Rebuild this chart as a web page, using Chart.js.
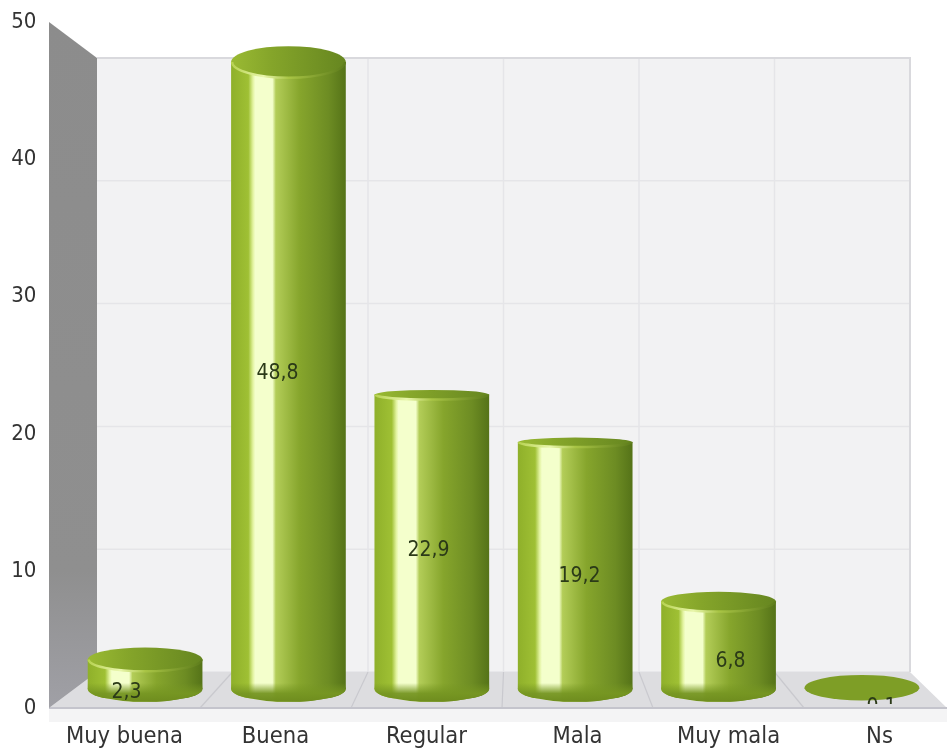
<!DOCTYPE html>
<html>
<head>
<meta charset="utf-8">
<style>
html,body{margin:0;padding:0;background:#fff}
canvas{display:block;filter:blur(.5px)}
</style>
<script src="https://cdn.jsdelivr.net/npm/chart.js@4"></script>
</head>
<body>
<canvas id="c" width="947" height="753"></canvas>
<script>
const categories = ['Muy buena','Buena','Regular','Mala','Muy mala','Ns'];
const values = [2.3,48.8,22.9,19.2,6.8,0.1];
const valueLabels = ['2,3','48,8','22,9','19,2','6,8','0,1'];
const yTicks = [0,10,20,30,40,50];

const font = '"DejaVu Sans Condensed","DejaVu Sans"';
const W = {x0:97,x1:910,y0:58,y1:672,fx0:49,fx1:955,fy:708,topY:22};

// ellipses get flatter near the eye line in the middle of the picture
function ry(y){ return 4 + Math.abs(y-420)*0.033; }
function sideFill(c,x,w){
  const g = c.createLinearGradient(x-w/2,0,x+w/2,0);
  [[0,'#8fb02a'],[.15,'#9fc034'],[.19,'#e2f3a0'],[.21,'#f4ffcc'],[.36,'#f4ffcc'],[.39,'#b3cd58'],[.6,'#86a52c'],[.85,'#6d8c23'],[1,'#557318']].forEach(s=>g.addColorStop(s[0],s[1]));
  return g;
}
function capFill(c,x,w){
  const g = c.createLinearGradient(x-w/2,0,x+w/2,0);
  g.addColorStop(0,'#9aba33'); g.addColorStop(.35,'#85a52a'); g.addColorStop(1,'#668620');
  return g;
}

const wallPlugin = {
  id:'wall',
  beforeDatasetsDraw(chart){
    const c = chart.ctx, wall = chart.scales.yWall;
    c.save();
    c.fillStyle = '#f2f2f3'; c.fillRect(W.x0,W.y0,W.x1-W.x0,W.y1-W.y0);
    c.fillStyle = '#f4f4f5'; c.fillRect(W.fx0,W.fy,947-W.fx0,14);
    c.strokeStyle = '#e5e5e8'; c.lineWidth = 1.5;
    yTicks.forEach(t=>{ const y = wall.getPixelForValue(t); c.beginPath(); c.moveTo(W.x0,y); c.lineTo(W.x1,y); c.stroke(); });
    const n = categories.length, bw = (W.x1-W.x0)/n, fw = (W.fx1-W.fx0)/n;
    for(let i=1;i<n;i++){ const x = W.x0+bw*i; c.beginPath(); c.moveTo(x,W.y0); c.lineTo(x,W.y1); c.stroke(); }
    c.strokeStyle = '#d9d9dd'; c.lineWidth = 2;
    c.beginPath(); c.moveTo(W.x0,W.y0); c.lineTo(W.x1,W.y0); c.lineTo(W.x1,W.y1); c.stroke();
    // floor
    c.fillStyle = '#dddde0';
    c.beginPath(); c.moveTo(W.fx0,W.fy); c.lineTo(W.x0,W.y1); c.lineTo(W.x1,W.y1); c.lineTo(947,W.fy); c.closePath(); c.fill();
    c.strokeStyle = '#c9c9ce'; c.lineWidth = 1.2;
    for(let i=1;i<n;i++){ c.beginPath(); c.moveTo(W.x0+bw*i,W.y1); c.lineTo(W.fx0+fw*i,W.fy); c.stroke(); }
    c.strokeStyle = '#c4c4cc'; c.lineWidth = 2;
    c.beginPath(); c.moveTo(W.fx0,W.fy); c.lineTo(947,W.fy); c.stroke();
    // left wall
    const g = c.createLinearGradient(0,W.topY,0,W.fy);
    g.addColorStop(0,'#8c8c8c'); g.addColorStop(.8,'#8f8f8f'); g.addColorStop(1,'#a0a0a6');
    c.fillStyle = g;
    c.beginPath(); c.moveTo(W.fx0,W.topY); c.lineTo(W.x0,W.y0); c.lineTo(W.x0,W.y1); c.lineTo(W.fx0,W.fy); c.closePath(); c.fill();
    // bottom of the cylinders
    chart.getDatasetMeta(0).data.forEach(b=>{
      if(b.base-b.y < 3) return;
      c.fillStyle = sideFill(c,b.x,b.width);
      c.beginPath(); c.ellipse(b.x,b.base,b.width/2,ry(b.base),0,0,Math.PI*2); c.fill();
    });
    c.restore();
  },
  afterDatasetsDraw(chart){
    const c = chart.ctx, yAxis = chart.scales.y, xl = chart.scales.xLabels;
    chart.getDatasetMeta(0).data.forEach((b,i)=>{
      const rx = b.width/2, r = ry(b.y), flat = b.base-b.y < 3;
      c.save();
      if(!flat){
        // darker lower edge
        const rb = ry(b.base), g = c.createLinearGradient(0,b.base-6,0,b.base+rb);
        g.addColorStop(0,'rgba(118,150,34,0)'); g.addColorStop(.55,'rgba(118,150,34,.95)'); g.addColorStop(1,'rgba(110,140,30,1)');
        c.fillStyle = g;
        c.beginPath(); c.moveTo(b.x-rx,b.base-6); c.lineTo(b.x+rx,b.base-6); c.lineTo(b.x+rx,b.base);
        c.ellipse(b.x,b.base,rx,rb,0,0,Math.PI); c.closePath(); c.fill();
      }
      c.fillStyle = flat ? '#7e9e26' : capFill(c,b.x,b.width);
      c.beginPath(); c.ellipse(b.x,b.y,rx,r,0,0,Math.PI*2); c.fill();
      if(!flat){
        // light front rim of the lid
        const g = c.createLinearGradient(b.x-rx,0,b.x+rx,0);
        g.addColorStop(0,'#b6d24f'); g.addColorStop(.28,'#e9f6ac'); g.addColorStop(.5,'#a9c545'); g.addColorStop(1,'#5d7c1b');
        c.strokeStyle = g; c.lineWidth = 2.5;
        c.beginPath(); c.ellipse(b.x,b.y,rx-1,r,0,0,Math.PI); c.stroke();
      }
      c.restore();
      // value label, placed on the visible axis
      c.save();
      c.beginPath(); c.rect(0,0,947,b.base+15); c.clip();
      c.fillStyle = '#2b3a18';
      c.font = '21px '+font;
      c.textAlign = 'center'; c.textBaseline = 'middle';
      c.fillText(valueLabels[i], xl.getPixelForValue(i)+2, yAxis.getPixelForValue(values[i]/2));
      c.restore();
    });
  }
};

new Chart(document.getElementById('c'),{
  type:'bar',
  data:{labels:categories,datasets:[{
    data:values,
    xAxisID:'x',yAxisID:'yBar',
    barPercentage:.8,categoryPercentage:1,borderWidth:0,
    backgroundColor:ctx=>{
      const s = ctx.chart.scales.x;
      const px = s && ctx.dataIndex !== undefined ? s.getPixelForValue(ctx.dataIndex) : NaN;
      if(!isFinite(px)) return '#86a52c';
      return sideFill(ctx.chart.ctx,px,114.6);
    }
  }]},
  options:{
    responsive:false,animation:false,
    layout:{padding:{top:22.5,right:13.4,left:0,bottom:0}},
    plugins:{legend:{display:false},tooltip:{enabled:false}},
    scales:{
      x:{type:'category',display:false,offset:true},
      xLabels:{
        type:'linear',position:'bottom',offset:false,min:-0.338,max:5.358,
        afterFit(s){ s.height = 45; s.paddingLeft = 0; s.paddingRight = 0; },
        afterBuildTicks(s){ s.ticks = categories.map((_,i)=>({value:i})); },
        grid:{display:false},border:{display:false},
        ticks:{autoSkip:false,maxRotation:0,padding:7,color:'#333',font:{family:font,size:23.5},callback:v=>categories[v]}
      },
      y:{
        type:'linear',position:'left',min:0,max:50,
        afterFit(s){ s.width = 73.4; s.paddingTop = 0; s.paddingBottom = 0; },
        afterBuildTicks(s){ s.ticks = yTicks.map(v=>({value:v})); },
        grid:{display:false},border:{display:false},
        ticks:{padding:29,color:'#333',font:{family:font,size:22}}
      },
      yBar:{type:'linear',display:false,min:-1.479,max:51.87},
      yWall:{type:'linear',display:false,min:-2.93,max:52.89}
    }
  },
  plugins:[wallPlugin]
});
</script>
</body>
</html>
